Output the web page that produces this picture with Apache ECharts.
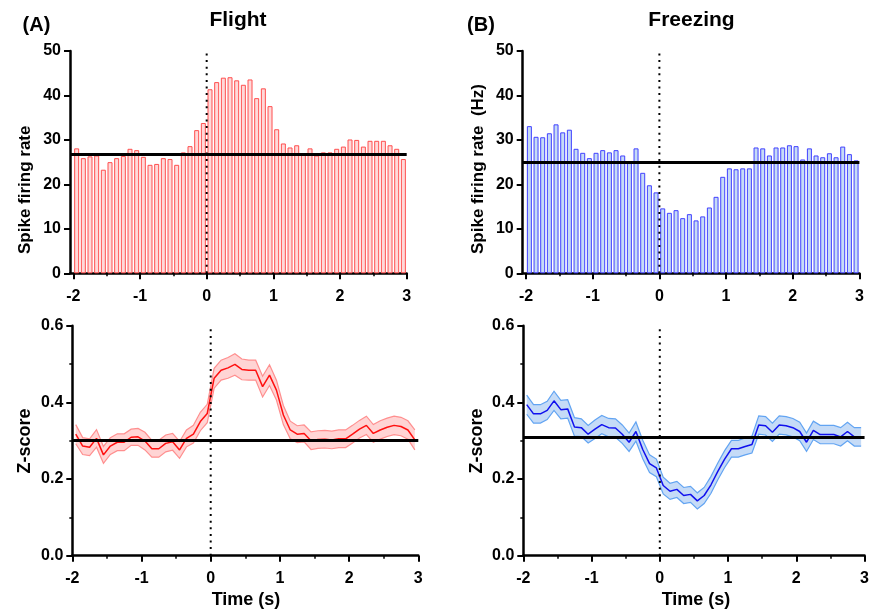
<!DOCTYPE html>
<html>
<head>
<meta charset="utf-8">
<script src="https://cdn.jsdelivr.net/npm/echarts@6/dist/echarts.min.js"></script>
<style>
  html, body { margin: 0; padding: 0; background: #fff; }
  #chart { width: 872px; height: 610px; }
</style>
</head>
<body>
<div id="chart"></div>
<script>
// 100 ms bins, centred, from -2 s to +3 s around behaviour onset
const timeBins = [
  -1.95, -1.85, -1.75, -1.65, -1.55, -1.45, -1.35, -1.25, -1.15, -1.05,
  -0.95, -0.85, -0.75, -0.65, -0.55, -0.45, -0.35, -0.25, -0.15, -0.05,
   0.05,  0.15,  0.25,  0.35,  0.45,  0.55,  0.65,  0.75,  0.85,  0.95,
   1.05,  1.15,  1.25,  1.35,  1.45,  1.55,  1.65,  1.75,  1.85,  1.95,
   2.05,  2.15,  2.25,  2.35,  2.45,  2.55,  2.65,  2.75,  2.85,  2.95
];
const onsetTime = 0;

// Spike firing rate (Hz) per bin
const flightRate = [
  28.1, 25.9, 26.3, 26.5, 23.3, 25.0, 25.9, 26.4, 28.0, 27.7,
  26.2, 24.4, 24.6, 25.9, 25.7, 24.4, 27.2, 28.6, 32.2, 33.8,
  41.4, 43.0, 44.0, 44.1, 43.4, 42.4, 43.6, 39.4, 41.6, 37.6,
  32.4, 29.2, 28.3, 28.8, 26.7, 28.1, 26.5, 27.2, 27.2, 28.0,
  28.5, 30.1, 30.0, 28.5, 29.8, 29.8, 29.8, 28.8, 28.0, 25.7
];
const freezeRate = [
  33.1, 30.7, 30.6, 31.5, 33.5, 31.7, 32.3, 28.0, 27.1, 25.9,
  27.1, 27.7, 27.2, 27.7, 26.5, 24.8, 28.1, 22.6, 19.8, 18.2,
  14.6, 13.6, 14.2, 12.4, 13.3, 11.9, 12.8, 14.8, 17.2, 21.7,
  23.6, 23.4, 23.6, 23.6, 28.3, 28.1, 26.5, 28.3, 28.3, 28.8,
  28.6, 25.6, 28.1, 26.5, 26.1, 27.0, 26.1, 28.5, 26.8, 25.4
];
const flightBaselineHz = 26.8;
const freezeBaselineHz = 25.0;

// Z-score mean and SEM per bin
const flightZ = [
  0.317, 0.286, 0.283, 0.306, 0.263, 0.286, 0.296, 0.296, 0.309, 0.310,
  0.299, 0.279, 0.279, 0.293, 0.297, 0.276, 0.306, 0.317, 0.350, 0.371,
  0.463, 0.484, 0.490, 0.499, 0.486, 0.484, 0.484, 0.441, 0.471, 0.432,
  0.367, 0.328, 0.317, 0.319, 0.300, 0.303, 0.304, 0.302, 0.305, 0.305,
  0.317, 0.330, 0.340, 0.319, 0.328, 0.335, 0.340, 0.337, 0.328, 0.302
];
const flightZSem = [
  0.025, 0.022, 0.022, 0.023, 0.022, 0.022, 0.022, 0.022, 0.021, 0.022,
  0.023, 0.022, 0.022, 0.022, 0.022, 0.022, 0.022, 0.023, 0.024, 0.024,
  0.026, 0.026, 0.027, 0.028, 0.027, 0.026, 0.026, 0.027, 0.027, 0.026,
  0.025, 0.023, 0.022, 0.022, 0.023, 0.023, 0.023, 0.023, 0.023, 0.023,
  0.023, 0.023, 0.024, 0.023, 0.024, 0.024, 0.024, 0.024, 0.024, 0.026
];
const freezeZ = [
  0.394, 0.370, 0.370, 0.379, 0.404, 0.381, 0.383, 0.336, 0.334, 0.317,
  0.330, 0.342, 0.334, 0.333, 0.317, 0.296, 0.324, 0.277, 0.240, 0.229,
  0.183, 0.168, 0.173, 0.157, 0.160, 0.143, 0.157, 0.185, 0.220, 0.252,
  0.279, 0.279, 0.285, 0.290, 0.341, 0.339, 0.322, 0.341, 0.339, 0.334,
  0.324, 0.296, 0.327, 0.316, 0.316, 0.316, 0.310, 0.324, 0.310, 0.310
];
const freezeZSem = [
  0.025, 0.024, 0.024, 0.024, 0.025, 0.024, 0.024, 0.024, 0.023, 0.023,
  0.024, 0.024, 0.024, 0.024, 0.024, 0.024, 0.025, 0.024, 0.023, 0.023,
  0.022, 0.021, 0.021, 0.021, 0.021, 0.021, 0.021, 0.022, 0.022, 0.022,
  0.022, 0.022, 0.022, 0.022, 0.024, 0.024, 0.024, 0.024, 0.024, 0.024,
  0.024, 0.024, 0.024, 0.024, 0.024, 0.024, 0.024, 0.024, 0.024, 0.024
];
const flightBaselineZ = 0.300;
const freezeBaselineZ = 0.307;

// Axis ranges and ticks
const rateMax = 50;
const zMax = 0.6;
const timeTicks = [-2, -1, 0, 1, 2, 3];
const halfTimeTicks = [-1.5, -0.5, 0.5, 1.5, 2.5];

const FONT = '"Liberation Sans", Arial, Helvetica, sans-serif';
const RED = { edge: '#ff4f4f', fill: '#ffd9d9', line: '#ff1010', band: 'rgba(255,100,100,0.28)', bandEdge: '#ff8f8f' };
const BLUE = { edge: '#4040ff', fill: '#c6dbf6', line: '#1010ee', band: 'rgba(110,165,235,0.40)', bandEdge: '#62a4f2' };

const tickLabel = { color: '#000', fontSize: 16, fontWeight: 'bold', fontFamily: FONT };
const axisLine = { show: true, onZero: false, lineStyle: { color: '#000', width: 2.5 } };

function histXAxis(grid) {
  return {
    type: 'value', gridIndex: grid, min: -2.05, max: 3, position: 'bottom',
    axisLine: axisLine,
    axisTick: { show: true, customValues: timeTicks, length: 6, lineStyle: { color: '#000', width: 2 } },
    axisLabel: Object.assign({ customValues: timeTicks, margin: 15 }, tickLabel),
    splitLine: { show: false }
  };
}
function histHalfAxis(grid) {
  return {
    type: 'value', gridIndex: grid, min: -2.05, max: 3, position: 'bottom',
    axisLine: { show: false, onZero: false },
    axisTick: { show: true, customValues: halfTimeTicks, length: 3, lineStyle: { color: '#000', width: 1.5 } },
    axisLabel: { show: false },
    splitLine: { show: false }
  };
}
function zXAxis(grid) {
  return {
    type: 'value', gridIndex: grid, min: -2, max: 3, interval: 1,
    axisLine: axisLine,
    axisTick: { show: true, length: 6, lineStyle: { color: '#000', width: 2 } },
    minorTick: { show: true, splitNumber: 2, length: 3, lineStyle: { color: '#000', width: 1.5 } },
    axisLabel: Object.assign({ margin: 15 }, tickLabel),
    splitLine: { show: false }
  };
}
function rateYAxis(grid) {
  return {
    type: 'value', gridIndex: grid, min: 0, max: rateMax, interval: 10, position: 'left',
    axisLine: axisLine,
    axisTick: { show: true, length: 6, lineStyle: { color: '#000', width: 2 } },
    axisLabel: Object.assign({ margin: 9 }, tickLabel),
    splitLine: { show: false }
  };
}
function zYAxis(grid) {
  return {
    type: 'value', gridIndex: grid, min: 0, max: zMax, interval: 0.2, position: 'left',
    axisLine: axisLine,
    axisTick: { show: true, length: 6, lineStyle: { color: '#000', width: 2 } },
    minorTick: { show: true, splitNumber: 2, length: 3, lineStyle: { color: '#000', width: 1.5 } },
    axisLabel: Object.assign({ margin: 9, formatter: v => v.toFixed(1) }, tickLabel),
    splitLine: { show: false }
  };
}

// solid horizontal baseline across the plot
function baselineMark(baseline) {
  return {
    silent: true, symbol: 'none', animation: false,
    label: { show: false },
    emphasis: { disabled: true },
    lineStyle: { color: '#000', width: 3, type: 'solid' },
    data: [{ yAxis: baseline }]
  };
}

// dotted vertical line at behaviour onset
function onsetSeries(axis, top) {
  return {
    type: 'line', xAxisIndex: axis, yAxisIndex: axis, z: 5,
    data: [[onsetTime, 0], [onsetTime, top]],
    showSymbol: false, symbol: 'none', silent: true, animation: false,
    lineStyle: { color: '#000', width: 2, type: [2, 4.6], cap: 'butt' }
  };
}

function histSeries(axis, rates, col, baseline) {
  return {
    type: 'bar', xAxisIndex: axis, yAxisIndex: axis,
    data: timeBins.map((t, i) => [t, rates[i]]),
    barWidth: 5,
    itemStyle: { color: col.fill, borderColor: col.edge, borderWidth: 1 },
    silent: true, animation: false,
    markLine: baselineMark(baseline)
  };
}

function bandSeries(axis, mean, sem, col) {
  return {
    type: 'custom', xAxisIndex: axis, yAxisIndex: axis, z: 2,
    silent: true, animation: false,
    data: timeBins.map((t, i) => [t, mean[i] - sem[i], mean[i] + sem[i]]),
    encode: { x: 0, y: [1, 2] },
    renderItem(params, api) {
      if (params.dataIndex !== 0) return null;
      const upper = timeBins.map((t, i) => api.coord([t, mean[i] + sem[i]]));
      const lower = timeBins.map((t, i) => api.coord([t, mean[i] - sem[i]]));
      return {
        type: 'group',
        children: [
          { type: 'polygon', shape: { points: upper.concat(lower.slice().reverse()) }, style: { fill: col.band } },
          { type: 'polyline', shape: { points: upper }, style: { stroke: col.bandEdge, lineWidth: 1.2, fill: null } },
          { type: 'polyline', shape: { points: lower }, style: { stroke: col.bandEdge, lineWidth: 1.2, fill: null } }
        ]
      };
    }
  };
}

function meanSeries(axis, mean, col, baseline) {
  return {
    type: 'line', xAxisIndex: axis, yAxisIndex: axis, z: 3,
    data: timeBins.map((t, i) => [t, mean[i]]),
    showSymbol: false, symbol: 'none',
    lineStyle: { color: col.line, width: 1.5 },
    silent: true, animation: false,
    markLine: baselineMark(baseline)
  };
}

function text(x, y, str, size) {
  return {
    type: 'text', x: x, y: y,
    style: { text: str, font: 'bold ' + size + 'px ' + FONT, fill: '#000', align: 'center', verticalAlign: 'middle' }
  };
}
function vtext(x, y, str, size, align) {
  return {
    type: 'text', x: x, y: y, rotation: Math.PI / 2,
    style: { text: str, font: 'bold ' + size + 'px ' + FONT, fill: '#000', align: align, verticalAlign: 'middle' }
  };
}

const chart = echarts.init(document.getElementById('chart'), null, { renderer: 'canvas' });
chart.setOption({
  backgroundColor: '#fff',
  animation: false,
  grid: [
    { left: 70, top: 51, width: 336.7, height: 222.3 },
    { left: 522.7, top: 51, width: 336.7, height: 222.3 },
    { left: 72.3, top: 325.7, width: 346, height: 230 },
    { left: 523.3, top: 325.7, width: 346, height: 230 }
  ],
  xAxis: [histXAxis(0), histXAxis(1), zXAxis(2), zXAxis(3), histHalfAxis(0), histHalfAxis(1)],
  yAxis: [rateYAxis(0), rateYAxis(1), zYAxis(2), zYAxis(3)],
  series: [
    histSeries(0, flightRate, RED, flightBaselineHz),
    histSeries(1, freezeRate, BLUE, freezeBaselineHz),
    bandSeries(2, flightZ, flightZSem, RED),
    meanSeries(2, flightZ, RED, flightBaselineZ),
    bandSeries(3, freezeZ, freezeZSem, BLUE),
    meanSeries(3, freezeZ, BLUE, freezeBaselineZ),
    onsetSeries(0, rateMax),
    onsetSeries(1, rateMax),
    onsetSeries(2, zMax),
    onsetSeries(3, zMax)
  ],
  graphic: [
    text(36.5, 25, '(A)', 20),
    text(481, 25, '(B)', 20),
    text(238, 20, 'Flight', 21),
    text(691.5, 20, 'Freezing', 21),
    vtext(25, 254, 'Spike firing rate', 17, 'left'),
    vtext(478, 254, 'Spike firing rate  (Hz)', 17, 'left'),
    vtext(25, 441, 'Z-score', 18, 'center'),
    vtext(477, 441, 'Z-score', 18, 'center'),
    text(246, 600, 'Time (s)', 18),
    text(696, 600, 'Time (s)', 18)
  ]
});
</script>
</body>
</html>
